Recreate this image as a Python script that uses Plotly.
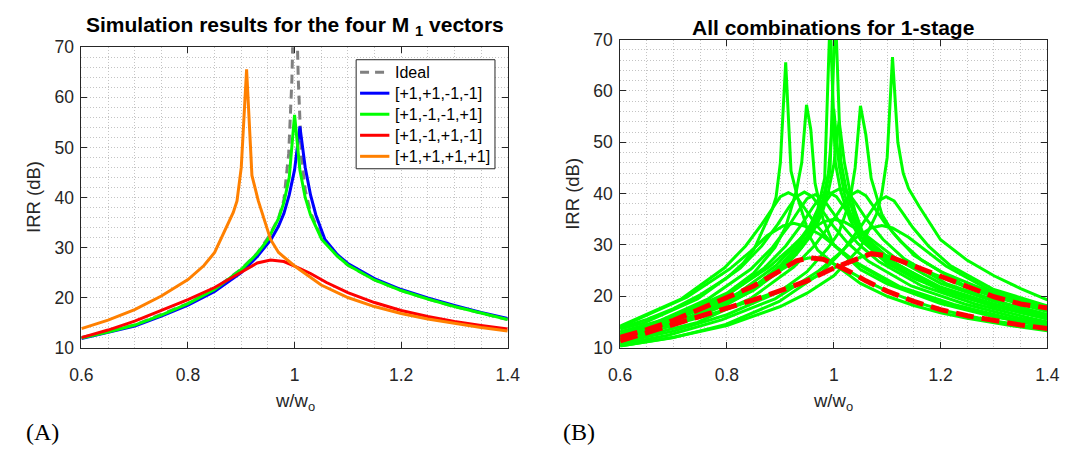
import plotly.graph_objects as go

W, H = 1076, 458
FONT = "Liberation Sans"
INK = "#262626"

# ---------------- Left panel data (A) ----------------
ideal_x = [0.6, 0.7, 0.8, 0.85, 0.9, 0.93, 0.95, 0.97, 0.98, 0.989, 0.995, 1.001, 1.007, 1.013, 1.02, 1.03, 1.05, 1.08, 1.1, 1.15, 1.2, 1.25, 1.3, 1.35, 1.4]
ideal_y = [12.0, 14.5, 18.8, 21.7, 25.7, 28.9, 31.9, 35.9, 39.5, 48.8, 63.5, 90.0, 63.5, 48.0, 41.5, 37.0, 32.2, 28.3, 26.5, 23.5, 21.4, 19.7, 18.2, 16.9, 15.6]

blue_x = [0.6, 0.65, 0.7, 0.75, 0.8, 0.85, 0.9, 0.93, 0.956, 0.97, 0.98, 0.99, 1.0, 1.01, 1.02, 1.03, 1.04, 1.057, 1.08, 1.1, 1.15, 1.2, 1.25, 1.3, 1.35, 1.4]
blue_y = [11.8, 13.0, 14.3, 16.3, 18.5, 21.2, 25.0, 28.2, 31.6, 34.3, 36.8, 40.5, 45.5, 54.2, 46.0, 40.5, 36.5, 31.6, 28.6, 26.8, 23.8, 21.6, 19.9, 18.4, 17.0, 15.8]

green_x = [0.6, 0.65, 0.7, 0.75, 0.8, 0.85, 0.9, 0.93, 0.95, 0.97, 0.98, 0.99, 1.0, 1.01, 1.02, 1.03, 1.051, 1.08, 1.1, 1.15, 1.2, 1.25, 1.3, 1.35, 1.4]
green_y = [11.9, 13.1, 14.5, 16.5, 18.8, 21.6, 25.6, 28.8, 31.6, 35.8, 39.0, 44.0, 56.5, 45.5, 40.0, 36.5, 31.6, 28.3, 26.5, 23.5, 21.4, 19.7, 18.2, 16.9, 15.6]

red_x = [0.6, 0.65, 0.7, 0.75, 0.8, 0.85, 0.9, 0.93, 0.955, 0.98, 1.0, 1.03, 1.06, 1.1, 1.15, 1.2, 1.25, 1.3, 1.35, 1.4]
red_y = [12.0, 13.5, 15.3, 17.5, 19.6, 22.0, 25.0, 26.9, 27.5, 27.2, 26.3, 24.8, 23.0, 21.0, 19.0, 17.4, 16.2, 15.2, 14.4, 13.7]

orange_x = [0.6, 0.65, 0.7, 0.75, 0.8, 0.83, 0.85, 0.861, 0.873, 0.885, 0.892, 0.9, 0.91, 0.92, 0.932, 0.944, 0.955, 0.97, 1.0, 1.05, 1.1, 1.15, 1.2, 1.25, 1.3, 1.35, 1.4]
orange_y = [13.8, 15.5, 17.6, 20.3, 23.6, 26.4, 29.0, 31.6, 34.1, 37.0, 39.3, 46.0, 65.6, 44.4, 39.3, 35.4, 31.6, 29.0, 26.3, 22.5, 20.0, 18.2, 16.8, 15.7, 14.8, 14.0, 13.3]

legend_names = ["Ideal", "[+1,+1,-1,-1]", "[+1,-1,-1,+1]", "[+1,-1,+1,-1]", "[+1,+1,+1,+1]"]

# ---------------- Right panel data (B): extra combinations ----------------
c2_x = [0.6, 0.7, 0.8, 0.85, 0.89, 0.91, 0.93, 0.94, 0.949, 0.957, 0.965, 0.98, 1.0, 1.05, 1.1, 1.2, 1.3, 1.4]
c2_y = [13.0, 16.0, 20.6, 24.5, 29.5, 33.5, 40.5, 46.0, 57.3, 52.5, 42.0, 35.0, 30.0, 25.2, 22.4, 18.6, 16.0, 14.2]

c3_x = [0.6, 0.7, 0.8, 0.85, 0.9, 0.93, 0.95, 0.97, 0.983, 0.993, 1.003, 1.013, 1.03, 1.05, 1.1, 1.2, 1.3, 1.4]
c3_y = [12.2, 14.8, 18.8, 21.8, 26.0, 29.5, 32.5, 37.0, 43.0, 74.0, 46.0, 40.5, 35.0, 31.0, 26.4, 21.2, 18.0, 15.6]

c4_x = [0.6, 0.7, 0.8, 0.85, 0.9, 0.94, 0.96, 0.98, 0.993, 1.003, 1.013, 1.023, 1.04, 1.06, 1.1, 1.2, 1.3, 1.4]
c4_y = [12.0, 14.4, 18.4, 21.3, 25.3, 29.5, 33.0, 38.0, 44.5, 76.0, 46.5, 41.0, 35.0, 31.0, 27.2, 21.8, 18.5, 16.0]

c7_x = [0.6, 0.7, 0.8, 0.9, 0.95, 0.99, 1.01, 1.03, 1.04, 1.05, 1.06, 1.07, 1.09, 1.11, 1.15, 1.2, 1.3, 1.4]
c7_y = [11.0, 13.2, 16.4, 21.0, 24.8, 29.5, 32.5, 38.5, 45.0, 57.1, 51.5, 43.0, 36.0, 32.5, 28.0, 24.8, 20.5, 17.6]

c8_x = [0.6, 0.7, 0.8, 0.9, 0.95, 1.0, 1.05, 1.08, 1.09, 1.1, 1.11, 1.12, 1.13, 1.14, 1.16, 1.2, 1.25, 1.3, 1.35, 1.4]
c8_y = [10.3, 12.0, 14.3, 18.0, 20.6, 24.0, 29.5, 36.0, 40.0, 47.0, 66.6, 50.0, 44.0, 41.0, 37.5, 31.0, 27.0, 24.0, 21.5, 19.3]

b1_x = [0.6, 0.715, 0.795, 0.835, 0.865, 0.885, 0.9, 0.915, 0.93, 0.945, 0.965, 0.995, 1.035, 1.115, 1.215, 1.315, 1.4]
b1_y = [14.2, 19.5, 25.5, 29.8, 34.0, 37.2, 39.4, 40.2, 39.4, 37.2, 34.2, 30.5, 26.8, 22.0, 18.5, 15.8, 13.9]

b2_x = [0.6, 0.645, 0.745, 0.825, 0.865, 0.895, 0.915, 0.93, 0.945, 0.96, 0.975, 0.995, 1.025, 1.065, 1.145, 1.245, 1.345, 1.4]
b2_y = [13.6, 14.8, 19.5, 25.5, 29.8, 34.0, 37.2, 39.4, 40.3, 39.4, 37.2, 34.2, 30.5, 26.8, 22.0, 18.5, 15.8, 14.6]

b3_x = [0.6, 0.665, 0.765, 0.845, 0.885, 0.915, 0.935, 0.95, 0.965, 0.98, 0.995, 1.015, 1.045, 1.085, 1.165, 1.265, 1.365, 1.4]
b3_y = [13.1, 14.8, 19.5, 25.3, 29.5, 33.6, 36.8, 39.0, 39.8, 39.0, 36.8, 33.9, 30.3, 26.7, 22.0, 18.5, 15.8, 15.0]

b4_x = [0.6, 0.69, 0.79, 0.87, 0.91, 0.94, 0.96, 0.975, 0.99, 1.005, 1.02, 1.04, 1.07, 1.11, 1.19, 1.29, 1.4]
b4_y = [12.5, 14.8, 19.5, 25.5, 29.8, 34.0, 37.2, 39.4, 40.3, 39.4, 37.2, 34.2, 30.5, 26.8, 22.0, 18.5, 15.6]

b5_x = [0.6, 0.712, 0.812, 0.892, 0.932, 0.962, 0.982, 0.997, 1.012, 1.027, 1.042, 1.062, 1.092, 1.132, 1.212, 1.312, 1.4]
b5_y = [11.9, 15.0, 19.9, 26.0, 30.4, 34.7, 38.0, 40.2, 41.0, 40.2, 38.0, 34.9, 31.1, 27.3, 22.4, 18.9, 16.4]

b6_x = [0.6, 0.645, 0.745, 0.845, 0.925, 0.965, 0.995, 1.015, 1.03, 1.045, 1.06, 1.075, 1.095, 1.125, 1.165, 1.245, 1.345, 1.4]
b6_y = [11.3, 12.3, 14.9, 19.6, 25.7, 30.0, 34.2, 37.4, 39.6, 40.5, 39.6, 37.4, 34.4, 30.7, 27.0, 22.1, 18.6, 17.0]

b8_x = [0.6, 0.698, 0.798, 0.898, 0.978, 1.018, 1.048, 1.068, 1.083, 1.098, 1.113, 1.128, 1.148, 1.178, 1.218, 1.298, 1.4]
b8_y = [10.3, 11.9, 14.5, 19.0, 24.7, 29.0, 33.2, 36.4, 38.6, 39.4, 38.6, 36.4, 33.4, 29.7, 26.0, 21.4, 18.1]

l1_x = [0.6, 0.725, 0.805, 0.845, 0.875, 0.905, 0.925, 0.945, 0.975, 1.005, 1.045, 1.125, 1.225, 1.325, 1.4]
l1_y = [14.0, 19.8, 25.3, 28.8, 31.8, 33.7, 34.2, 33.7, 32.0, 29.6, 26.4, 21.8, 18.4, 15.8, 14.2]

l2_x = [0.6, 0.7, 0.8, 0.88, 0.92, 0.95, 0.98, 1.0, 1.02, 1.05, 1.08, 1.12, 1.2, 1.3, 1.4]
l2_y = [12.5, 15.6, 20.2, 25.8, 29.5, 32.5, 34.5, 35.0, 34.5, 32.7, 30.3, 27.1, 22.5, 19.0, 16.4]

l3_x = [0.6, 0.69, 0.79, 0.89, 0.97, 1.01, 1.04, 1.07, 1.09, 1.11, 1.14, 1.17, 1.21, 1.29, 1.39, 1.4]
l3_y = [10.6, 12.4, 15.4, 19.5, 24.8, 28.3, 31.3, 33.3, 33.8, 33.3, 31.5, 29.1, 25.9, 21.3, 17.9, 17.6]

r2_x = [0.6, 0.65, 0.7, 0.75, 0.8, 0.85, 0.9, 0.95, 1.0, 1.03, 1.05, 1.07, 1.1, 1.15, 1.2, 1.25, 1.3, 1.35, 1.4]
r2_y = [11.3, 12.9, 14.5, 15.9, 17.5, 19.3, 21.1, 23.0, 25.5, 26.8, 27.6, 28.3, 27.9, 25.9, 23.8, 21.7, 19.9, 18.5, 17.7]

x_ticks = [0.6, 0.8, 1.0, 1.2, 1.4]
x_tick_text = ["0.6", "0.8", "1", "1.2", "1.4"]
y_ticks = [10, 20, 30, 40, 50, 60, 70]

# ---------------- figure ----------------
fig = go.Figure()

left_styles = [
    ("#808080", "9px,6px"),
    ("#0000FF", "solid"),
    ("#00FF00", "solid"),
    ("#FF0000", "solid"),
    ("#FF8000", "solid"),
]
left_data = [(ideal_x, ideal_y), (blue_x, blue_y), (green_x, green_y),
             (red_x, red_y), (orange_x, orange_y)]
for (xs, ys), (col, dash), name in zip(left_data, left_styles, legend_names):
    fig.add_trace(go.Scatter(x=xs, y=ys, mode="lines", name=name,
                             line=dict(color=col, width=3, dash=dash),
                             xaxis="x", yaxis="y", showlegend=False))

right_green = [
    (orange_x, orange_y), (c2_x, c2_y), (c3_x, c3_y), (c4_x, c4_y),
    (green_x, green_y), (blue_x, blue_y), (c7_x, c7_y), (c8_x, c8_y),
    (b1_x, b1_y), (b2_x, b2_y), (b3_x, b3_y), (b4_x, b4_y), (b5_x, b5_y),
    (b6_x, b6_y), (b8_x, b8_y), (l1_x, l1_y), (l2_x, l2_y), (l3_x, l3_y),
    (red_x, red_y), (r2_x, r2_y),
]
for xs, ys in right_green:
    fig.add_trace(go.Scatter(x=xs, y=ys, mode="lines", showlegend=False,
                             line=dict(color="#00FF00", width=3),
                             xaxis="x2", yaxis="y2"))
for xs, ys in [(red_x, red_y), (r2_x, r2_y)]:
    fig.add_trace(go.Scatter(x=xs, y=ys, mode="lines", showlegend=False,
                             line=dict(color="#FF0000", width=5, dash="18px,8px"),
                             xaxis="x2", yaxis="y2"))


def px_x(p):
    return p / W


def px_y(p):
    return 1 - p / H


GRID = "#c4c4c4"
GDASH = "1px,2px"
TICKSIZE = 17.5


def xaxis_cfg(domain, anchor):
    return dict(domain=domain, anchor=anchor, range=[0.6, 1.4],
                tickvals=x_ticks, ticktext=x_tick_text,
                ticks="inside", ticklen=6, tickwidth=1, tickcolor=INK,
                showline=True, linecolor=INK, linewidth=1, mirror="allticks",
                showgrid=True, gridcolor=GRID, griddash=GDASH, gridwidth=1,
                minor=dict(dtick=0.05, tick0=0.6, showgrid=True, gridcolor=GRID,
                           griddash=GDASH, gridwidth=1),
                zeroline=False, ticklabelstandoff=11,
                tickfont=dict(family=FONT, size=TICKSIZE, color=INK))


def yaxis_cfg(domain, anchor):
    return dict(domain=domain, anchor=anchor, range=[10, 70],
                tickvals=y_ticks,
                ticks="inside", ticklen=6, tickwidth=1, tickcolor=INK,
                showline=True, linecolor=INK, linewidth=1, mirror="allticks",
                showgrid=True, gridcolor=GRID, griddash=GDASH, gridwidth=1,
                minor=dict(dtick=2, tick0=0, showgrid=True, gridcolor=GRID,
                           griddash=GDASH, gridwidth=1),
                zeroline=False, ticklabelstandoff=3,
                tickfont=dict(family=FONT, size=TICKSIZE, color=INK))


# legend drawn by hand so that box and row spacing match the reference
LEG_L, LEG_R, LEG_T, LEG_B = 352, 494, 52, 166
leg_rows = [65, 87, 109, 131, 153]
shapes = [dict(type="rect", xref="paper", yref="paper",
               x0=px_x(LEG_L), x1=px_x(LEG_R), y0=px_y(LEG_B), y1=px_y(LEG_T),
               line=dict(color=INK, width=1), fillcolor="white", layer="above")]
for row, (col, dash) in zip(leg_rows, left_styles):
    shapes.append(dict(type="line", xref="paper", yref="paper",
                       x0=px_x(356), x1=px_x(386), y0=px_y(row), y1=px_y(row),
                       line=dict(color=col, width=3, dash=dash), layer="above"))

fig.update_layout(
    width=W, height=H,
    margin=dict(l=0, r=0, t=0, b=0),
    paper_bgcolor="white", plot_bgcolor="white",
    font=dict(family=FONT, size=16, color=INK),
    xaxis=xaxis_cfg([px_x(71), px_x(507)], "y"),
    yaxis=yaxis_cfg([px_y(353), px_y(39)], "x"),
    xaxis2=xaxis_cfg([px_x(622), px_x(1059)], "y2"),
    yaxis2=yaxis_cfg([px_y(353), px_y(31)], "x2"),
    showlegend=False,
    shapes=shapes,
)

annotations = [
    dict(text="<b>Simulation results for the four M <sub>1</sub> vectors</b>",
         x=px_x(289), y=px_y(17), font=dict(size=21, color="black")),
    dict(text="<b>All combinations for 1-stage</b>",
         x=px_x(840), y=px_y(18), font=dict(size=21, color="black")),
    dict(text="IRR (dB)", x=px_x(22), y=px_y(196), textangle=-90,
         font=dict(size=18.5, color=INK)),
    dict(text="IRR (dB)", x=px_x(573), y=px_y(192), textangle=-90,
         font=dict(size=18.5, color=INK)),
    dict(text="w/w<sub>o</sub>", x=px_x(289), y=px_y(410),
         font=dict(size=18.5, color=INK)),
    dict(text="w/w<sub>o</sub>", x=px_x(840), y=px_y(410),
         font=dict(size=18.5, color=INK)),
    dict(text="(A)", x=px_x(31), y=px_y(441),
         font=dict(size=24, color="black", family="Liberation Serif")),
    dict(text="(B)", x=px_x(580), y=px_y(441),
         font=dict(size=24, color="black", family="Liberation Serif")),
]
for a in annotations:
    a.update(xanchor="center", yanchor="middle")
for row, name in zip(leg_rows, legend_names):
    annotations.append(dict(text=name, x=px_x(390), y=px_y(row),
                            xanchor="left", yanchor="middle",
                            font=dict(size=16, color="black")))
for a in annotations:
    a.update(xref="paper", yref="paper", showarrow=False)
    a["font"].setdefault("family", FONT)
fig.update_layout(annotations=annotations)

fig.write_html("out.html")
